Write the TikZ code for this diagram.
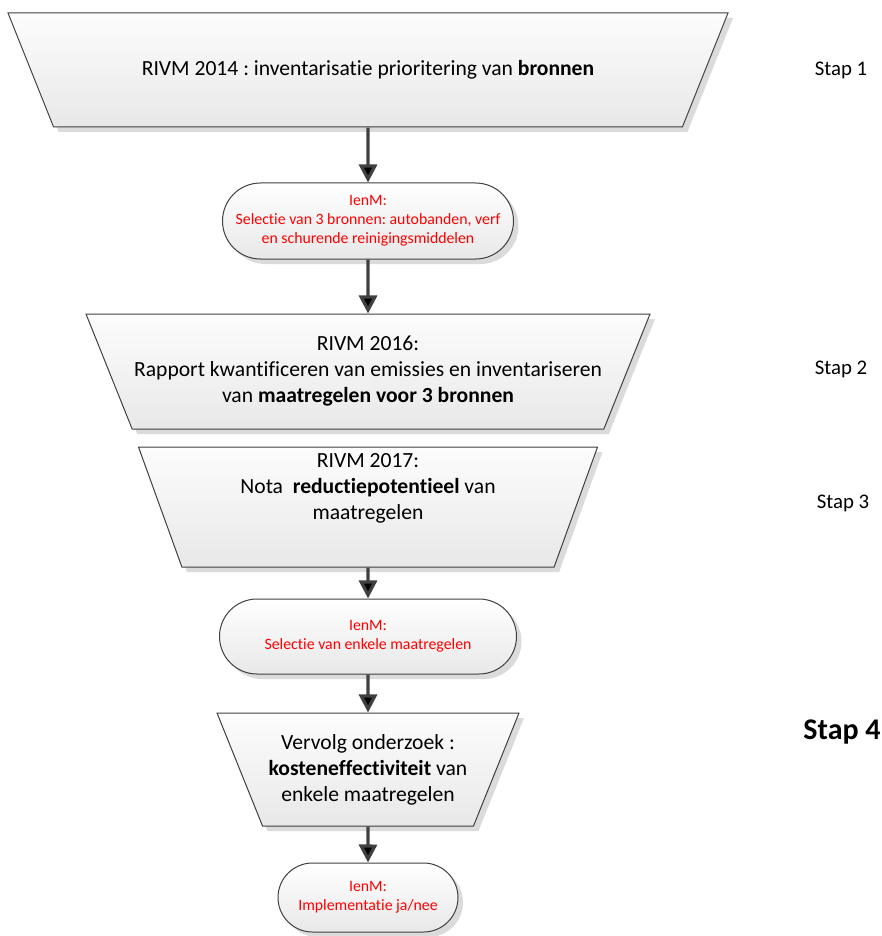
\documentclass[tikz,border=0pt]{standalone}
\usepackage{fontspec}
\setmainfont{Carlito}[Ligatures=NoCommon]
\usepackage{tikz}
\usetikzlibrary{arrows.meta,shapes.geometric,shapes.misc,shadows}

\definecolor{darkline}{HTML}{404040}
\definecolor{ienmred}{HTML}{FF0000}
\frenchspacing

\begin{document}
\begin{tikzpicture}[
            > = {Triangle[length=9pt,width=9pt]}, % arrow head style
            node distance = 75pt, % distance between nodes
            every node/.style = {font=\fontsize{10.8}{13}\selectfont},
            proces/.style = {trapezium, shape border rotate=180, trapezium angle=68,
                trapezium stretches body, draw=darkline, line width=0.5pt,
                top color=black!1, bottom color=black!9, align=center, inner xsep=0pt,
                drop shadow={shadow xshift=2.5pt, shadow yshift=-2.5pt, fill=black!14, opacity=1}},
            besluit/.style = {rounded rectangle, draw=darkline, line width=0.5pt,
                top color=white, bottom color=black!9, align=center, inner sep=2pt,
                text=ienmred, font=\fontsize{7.9}{9.5}\selectfont,
                drop shadow={shadow xshift=2.5pt, shadow yshift=-2.5pt, fill=black!14, opacity=1}},
            stap/.style = {font=\fontsize{10.4}{12.5}\selectfont},
            pijl/.style = {->, line width=1.6pt, draw=darkline} % connector style
        ]

	\useasboundingbox (0,0) rectangle (441pt,-468pt);

	\node[proces, minimum width=360pt, minimum height=57pt, inner ysep=23.5pt] (A) at (184pt,-35pt) {RIVM 2014 : inventarisatie prioritering van \textbf{bronnen}};
	\node[besluit, minimum width=149.5pt, minimum height=38pt] (B) [node distance=75.5pt, below of=A] {IenM:\\Selectie van 3 bronnen: autobanden, verf\\en schurende reinigingsmiddelen};
	\node[proces, minimum width=282pt, minimum height=57.5pt, inner ysep=11pt] (C) [node distance=75.25pt, below of=B] {RIVM 2016:\\Rapport kwantificeren van emissies en inventariseren\\van \textbf{maatregelen voor 3 bronnen}};
	\node[proces, minimum width=229.5pt, minimum height=60pt, trapezium angle=70, inner ysep=3.2pt, text depth=20.2pt] (D) [node distance=67.75pt, below of=C] {RIVM 2017:\\Nota~ \textbf{reductiepotentieel} van\\maatregelen};
	\node[besluit, minimum width=152.5pt, minimum height=37.5pt] (E) [node distance=64.75pt, below of=D] {IenM:\\Selectie van enkele maatregelen};
	\node[proces, minimum width=151pt, minimum height=56.5pt, inner ysep=10.5pt] (F) [node distance=66.5pt, below of=E] {Vervolg onderzoek :\\\textbf{kosteneffectiviteit} van\\enkele maatregelen};
	\node[besluit, minimum width=94pt, minimum height=34.5pt] (G) [node distance=64pt, below of=F] {IenM:\\Implementatie ja/nee};

	\node[stap] (S1) at (420.5pt,-35pt) {Stap 1};
	\node[stap] (S2) at (420.5pt,-184.5pt) {Stap 2};
	\node[stap] (S3) at (421.5pt,-251.5pt) {Stap 3};
	\node[font=\fontsize{15}{18}\selectfont\bfseries] (S4) at (421pt,-366pt) {Stap 4};

	\draw[pijl] (A) edge (B);
	\draw[pijl] (B) edge (C);
	\draw[pijl] (D) edge (E);
	\draw[pijl] (E) edge (F);
	\draw[pijl] (F) edge (G);
\end{tikzpicture}
\end{document}
